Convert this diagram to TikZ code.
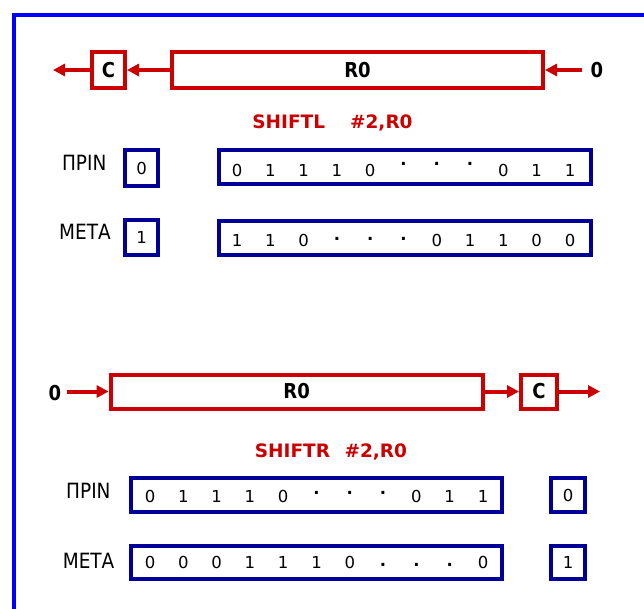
\documentclass[tikz,border=0pt]{standalone}
\usepackage{fontspec}
\setmainfont{DejaVu Sans}
\newfontfamily\nar{DejaVu Sans}[FakeStretch=0.88]
\usetikzlibrary{arrows.meta}
\definecolor{rd}{HTML}{CC0000}
\definecolor{nv}{HTML}{000099}
\definecolor{fr}{HTML}{0000FF}
\newcommand\dtr[1]{\raisebox{#1}{\bfseries .}}
\begin{document}
\begin{tikzpicture}[x=1pt,y=-1pt,
 redbox/.style={draw=rd, line width=4pt, inner sep=0pt, font=\nar\bfseries\fontsize{20.5}{24}\selectfont},
 bluebox/.style={draw=nv, line width=4pt, inner sep=0pt, font=\fontsize{16.5}{20}\selectfont},
 bit/.style={anchor=base, inner sep=0pt, font=\fontsize{16.5}{20}\selectfont},
 lab/.style={anchor=base, inner sep=0pt, font=\nar\fontsize{21}{25}\selectfont},
 cmd/.style={anchor=base, text=rd, inner sep=0pt, font=\bfseries\fontsize{18.5}{22}\selectfont},
 boldtxt/.style={inner sep=0pt, font=\nar\bfseries\fontsize{20.5}{24}\selectfont},
 arr/.style={draw=rd, line width=4pt, -{Triangle[length=12pt,width=12pt]}}]
\useasboundingbox (0,0) rectangle (644,608);
\clip (0,0) rectangle (644,608);
\draw[fr, line width=4pt] (14.3,15) rectangle (645.5,700);

% ---------- SHIFTL ----------
\node[redbox, minimum width=33pt, minimum height=36pt] (c1) at (108.5,70) {C};
\node[redbox, minimum width=371pt, minimum height=36pt] (r1) at (357.5,70) {R0\hspace{14pt}};
\node[boldtxt] (z1) at (597,70.5) {0};
\coordinate (o1) at (53,70);
\draw[arr] (r1.west) -- (c1.east);
\draw[arr] (c1.west) -- (o1);
\draw[arr] ([xshift=-9pt]r1.east -| z1.west) -- (r1.east);

\node[cmd] (s1) at (332.5,128.3) {SHIFTL\hspace{25pt}\#2,R0};

\node[lab] (l1) at (84.2,170.7) {ΠΡΙΝ};
\node[lab] (l2) at (85,239.3) {ΜΕΤΑ};
\node[bluebox, minimum width=33pt, minimum height=35.5pt] (k1) at (141.5,168) {0};
\node[bluebox, minimum width=33pt, minimum height=34.4pt] (k2) at (141.5,237.5) {1};
\node[bluebox, minimum width=372pt, minimum height=33.7pt] (b1) at (405,167.2) {};
\node[bluebox, minimum width=372pt, minimum height=33.7pt] (b2) at (405,237.9) {};
\foreach \c [count=\i from 0] in {0,1,1,1,0,\dtr{10.5pt},\dtr{10.5pt},\dtr{10.5pt},0,1,1}
  \node[bit] (pa\i) at (237+33.3*\i,176) {\c};
\foreach \c [count=\i from 0] in {1,1,0,\dtr{6.2pt},\dtr{6.2pt},\dtr{6.2pt},0,1,1,0,0}
  \node[bit] (pb\i) at (237+33.3*\i,246.7) {\c};

% ---------- SHIFTR ----------
\node[boldtxt] (z2) at (55,393) {0};
\node[redbox, minimum width=372pt, minimum height=34pt] (r2) at (296.6,391.5) {R0\hspace{14pt}};
\node[redbox, minimum width=36pt, minimum height=34pt] (c2) at (539,391.5) {C};
\coordinate (o2) at (600,391.5);
\draw[arr] ([xshift=5.5pt]r2.west -| z2.east) -- (r2.west);
\draw[arr] (r2.east) -- (c2.west);
\draw[arr] (c2.east) -- (o2);

\node[cmd] (s2) at (331,457.3) {SHIFTR\hspace{14.5pt}\#2,R0};

\node[lab] (l3) at (88.4,498) {ΠΡΙΝ};
\node[lab] (l4) at (88.6,568) {ΜΕΤΑ};
\node[bluebox, minimum width=371pt, minimum height=34pt] (b3) at (316.5,495) {};
\node[bluebox, minimum width=371pt, minimum height=33pt] (b4) at (316.5,562.5) {};
\node[bluebox, minimum width=34pt, minimum height=34pt] (k3) at (568,495) {0};
\node[bluebox, minimum width=34pt, minimum height=33pt] (k4) at (568,562.5) {1};
\foreach \c [count=\i from 0] in {0,1,1,1,0,\dtr{7.5pt},\dtr{7.5pt},\dtr{7.5pt},0,1,1}
  \node[bit] (pc\i) at (150+33.3*\i,502) {\c};
\foreach \c [count=\i from 0] in {0,0,0,1,1,1,0,\dtr{1.5pt},\dtr{1.5pt},\dtr{1.5pt},0}
  \node[bit] (pd\i) at (150+33.3*\i,568) {\c};
\end{tikzpicture}
\end{document}
